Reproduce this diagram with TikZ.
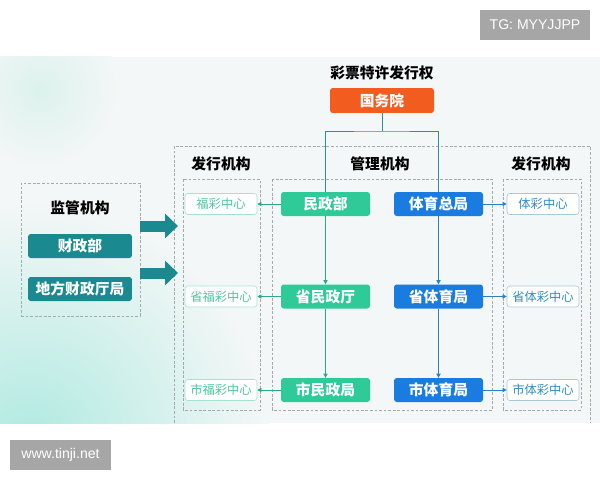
\documentclass[tikz,border=0pt]{standalone}
\usepackage{fontspec}
\setmainfont{Noto Sans CJK SC}
\newfontfamily\markfont{Liberation Sans}
\usetikzlibrary{arrows.meta}

\definecolor{guoorange}{HTML}{F25C1F}
\definecolor{jgteal}{HTML}{1A8A90}
\definecolor{mzgreen}{HTML}{2ECB99}
\definecolor{tyblue}{HTML}{1A7BE0}
\definecolor{fctext}{HTML}{4DC7A0}
\definecolor{fcline}{HTML}{A5E3CF}
\definecolor{tctext}{HTML}{2E8CC2}
\definecolor{tcline}{HTML}{A9C9DA}
\definecolor{linkteal}{HTML}{2B8EA5}
\definecolor{linkgreen}{HTML}{2FA58E}
\definecolor{linkblue}{HTML}{2A80C0}
\definecolor{dashgray}{HTML}{A3ABAD}
\definecolor{panelbg}{HTML}{F4F7F7}
\definecolor{panelteal}{HTML}{B0EAE1}
\definecolor{markgray}{HTML}{A6A6A6}

\tikzset{
  bigfont/.style={font=\fontsize{21}{24}\selectfont\bfseries},
  smallfont/.style={font=\fontsize{17.5}{20}\selectfont},
  heading/.style={bigfont, inner sep=0pt},
  solidbox/.style={bigfont, text=white, rounded corners=4pt, minimum width=4.45cm, minimum height=1.2cm, inner sep=0pt},
  lightbox/.style={smallfont, fill=white, draw, line width=0.8pt, rounded corners=4pt, minimum width=3.6cm, minimum height=1.05cm, inner sep=0pt},
  markbox/.style={fill=markgray, text=white, font=\markfont\fontsize{20}{22}\selectfont, minimum height=1.5cm, inner sep=0pt},
  group/.style={draw=dashgray, line width=0.7pt, dash pattern=on 4pt off 2.5pt},
  link/.style={line width=1.3pt},
  linkarrow/.style={link, -{Triangle[length=6pt,width=6pt]}},
  bigarrow/.style={draw=jgteal, line width=0.55cm, -{Triangle[length=0.65cm,width=1.2cm]}}
}

\begin{document}
\begin{tikzpicture}[x=0.05cm, y=-0.05cm]
    \useasboundingbox (0,0) rectangle (600,480);

    % background panel
    \fill[panelbg] (0,57) rectangle (600,423);
    \begin{scope}
        \clip (0,57) rectangle (600,423);
        \shade[inner color=panelteal, outer color=panelbg] (30,440) circle (12cm);
        \shade[inner color=mzgreen!12!panelbg, outer color=panelbg] (40,90) circle (4cm);
    \end{scope}

    % watermarks
    \node[markbox, minimum width=5.5cm] (tg) at (535,25) {TG: MYYJJPP};
    \node[markbox, minimum width=5.05cm] (site) at (60.5,455) {www.tinji.net};

    % top of the chart
    \node[heading] (title) at (382,73) {彩票特许发行权};
    \node[solidbox, fill=guoorange, minimum width=5.2cm, minimum height=1.25cm] (gwy) at (382,100.5) {国务院};
    \coordinate (split) at (382,131);

    % dashed groups
    \draw[group] (174,423) -- (174,146) -- (590,146) -- (590,423);
    \draw[group] (183,179) rectangle (260,410);
    \draw[group] (272,179) rectangle (492,410);
    \draw[group] (503,179) rectangle (581,410);
    \node[heading] (hleft) at (221,164) {发行机构};
    \node[heading] (hmid) at (380,164) {管理机构};
    \node[heading] (hright) at (541,164) {发行机构};

    % supervisors
    \node[group, minimum width=5.95cm, minimum height=6.65cm] (jg) at (80.5,249.5) {};
    \node[heading] (jgtitle) at (80,208) {监管机构};
    \node[solidbox, fill=jgteal, minimum width=5.2cm] (czb) at (80,246) {财政部};
    \node[solidbox, fill=jgteal, minimum width=5.2cm] (dfcz) at (80,289) {地方财政厅局};
    \coordinate (in1) at (178,226);
    \coordinate (in2) at (178,273);
    \draw[bigarrow] (jg.east |- in1) -- (in1);
    \draw[bigarrow] (jg.east |- in2) -- (in2);

    % the three levels
    \foreach \y/\n/\fc/\mz/\ty/\tc in {
        204/1/福彩中心/民政部/体育总局/体彩中心,
        296.5/2/省福彩中心/省民政厅/省体育局/省体彩中心,
        390/3/市福彩中心/市民政局/市体育局/市体彩中心
    } {
        \node[lightbox, draw=fcline, text=fctext] (fc\n) at (221,\y) {\fc};
        \node[solidbox, fill=mzgreen] (mz\n) at (325.5,\y) {\mz};
        \node[solidbox, fill=tyblue] (ty\n) at (438.5,\y) {\ty};
        \node[lightbox, draw=tcline, text=tctext] (tc\n) at (543,\y) {\tc};
        \draw[linkarrow, linkgreen] (mz\n) -- (fc\n);
        \draw[linkarrow, linkblue] (ty\n) -- (tc\n);
    }
    \foreach \a/\b in {1/2, 2/3} {
        \draw[linkarrow, linkgreen] (mz\a) -- (mz\b);
        \draw[linkarrow, linkblue] (ty\a) -- (ty\b);
    }

    % from the State Council down
    \draw[link, linkteal] (gwy) -- (split);
    \draw[link, linkteal] (mz1) |- (split) -| (ty1);
\end{tikzpicture}
\end{document}
